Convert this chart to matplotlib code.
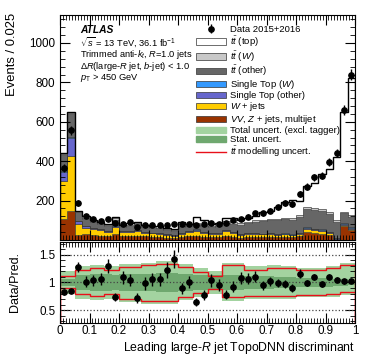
import numpy as np
import matplotlib
matplotlib.use("Agg")
import matplotlib.pyplot as plt
from matplotlib.patches import Patch
from matplotlib.lines import Line2D
from matplotlib.ticker import MultipleLocator, FixedLocator, FuncFormatter

plt.rcParams['font.family'] = 'Liberation Sans'
plt.rcParams['mathtext.fontset'] = 'custom'
plt.rcParams['mathtext.rm'] = 'Liberation Sans'
plt.rcParams['mathtext.it'] = 'Liberation Sans:italic'
plt.rcParams['mathtext.bf'] = 'Liberation Sans:bold'

# 40 bins of width 0.025
edges = np.linspace(0.0, 1.0, 41)
centres = 0.5 * (edges[1:] + edges[:-1])

data = [365, 556, 187, 122, 105, 95, 105, 85, 83, 91,
        67, 76, 76, 76, 76, 80, 80, 81, 75, 81,
        85, 81, 88, 102, 107, 119, 136, 136, 149, 166,
        187, 183, 232, 271, 319, 327, 395, 440, 662, 840]

# stack components, bottom to top
vv = [105, 148, 25, 28, 25, 22, 20, 30, 18, 20,
      22, 18, 16, 15, 12, 10, 14, 18, 22, 16,
      14, 14, 20, 16, 12, 14, 16, 14, 16, 14,
      16, 14, 20, 40, 36, 32, 26, 4, 72, 52]
wjets = [192, 276, 56, 35, 30, 28, 22, 38, 24, 22,
         25, 20, 18, 16, 14, 12, 18, 22, 26, 20,
         16, 16, 24, 20, 14, 16, 16, 14, 14, 12,
         12, 10, 12, 16, 14, 14, 10, 2, 4, 4]
st_other = [48, 95, 15, 8, 6, 5, 5, 5, 4, 4,
            4, 4, 3, 3, 3, 3, 4, 4, 5, 4,
            3, 4, 5, 4, 3, 4, 4, 3, 4, 4,
            4, 3, 4, 6, 6, 6, 5, 2, 6, 5]
st_w = [3, 4, 2, 2, 2, 1, 1, 1, 1, 1,
        1, 1, 1, 1, 1, 1, 1, 1, 1, 1,
        1, 1, 1, 1, 1, 1, 1, 1, 1, 1,
        1, 1, 1, 2, 2, 2, 2, 1, 3, 3]
tt_other = [85, 115, 42, 35, 28, 25, 23, 30, 20, 26,
            28, 25, 24, 24, 22, 20, 28, 24, 28, 30,
            32, 34, 38, 42, 48, 52, 56, 64, 66, 70,
            72, 76, 80, 92, 94, 92, 90, 80, 52, 55]
tt_w = [5, 8, 4, 5, 5, 5, 5, 6, 4, 4,
        5, 4, 4, 4, 4, 4, 5, 5, 5, 5,
        5, 5, 6, 6, 6, 6, 7, 7, 7, 8,
        8, 8, 8, 10, 10, 10, 10, 10, 6, 10]
tt_top = [4, 4, 2, 7, 5, 4, 5, 5, 5, 10,
          7, 5, 6, 9, 6, 6, 19, 6, 28, 28,
          11, 11, 19, 21, 15, 18, 23, 40, 38, 59,
          78, 91, 75, 108, 128, 178, 216, 320, 506, 695]

# ratio panel bands
red_up = [1.11, 1.11, 1.22, 1.22, 1.26, 1.26, 1.23, 1.23, 1.28, 1.28,
          1.28, 1.32, 1.32, 1.34, 1.34, 1.34, 1.28, 1.28, 1.19, 1.19,
          1.11, 1.11, 1.31, 1.31, 1.31, 1.23, 1.23, 1.23, 1.26, 1.26,
          1.26, 1.26, 1.22, 1.22, 1.22, 1.22, 1.26, 1.26, 1.32, 1.32]
red_dn = [0.90, 0.90, 0.79, 0.79, 0.76, 0.76, 0.79, 0.79, 0.70, 0.70,
          0.70, 0.67, 0.67, 0.66, 0.66, 0.66, 0.74, 0.74, 0.81, 0.81,
          0.89, 0.89, 0.73, 0.73, 0.73, 0.76, 0.76, 0.76, 0.75, 0.75,
          0.75, 0.75, 0.78, 0.78, 0.78, 0.78, 0.79, 0.79, 0.82, 0.82]
tot_up = [1.20, 1.20, 1.30, 1.30, 1.32, 1.32, 1.30, 1.30, 1.33, 1.33,
          1.33, 1.36, 1.36, 1.38, 1.38, 1.38, 1.33, 1.33, 1.26, 1.26,
          1.20, 1.20, 1.36, 1.36, 1.36, 1.30, 1.30, 1.30, 1.31, 1.31,
          1.30, 1.30, 1.27, 1.27, 1.27, 1.27, 1.30, 1.30, 1.35, 1.35]
tot_dn = [0.80, 0.80, 0.70, 0.70, 0.68, 0.68, 0.70, 0.70, 0.65, 0.65,
          0.65, 0.62, 0.62, 0.61, 0.61, 0.61, 0.68, 0.68, 0.74, 0.74,
          0.80, 0.80, 0.66, 0.66, 0.66, 0.71, 0.71, 0.71, 0.70, 0.70,
          0.71, 0.71, 0.73, 0.73, 0.73, 0.73, 0.74, 0.74, 0.77, 0.77]
stat = [0.07, 0.06, 0.13, 0.14, 0.15, 0.15, 0.16, 0.14, 0.16, 0.15,
        0.15, 0.16, 0.16, 0.17, 0.18, 0.18, 0.15, 0.15, 0.14, 0.14,
        0.14, 0.14, 0.13, 0.13, 0.13, 0.12, 0.12, 0.11, 0.11, 0.10,
        0.10, 0.10, 0.09, 0.09, 0.08, 0.08, 0.08, 0.07, 0.06, 0.05]

c_vv, c_wj, c_sto, c_stw = '#993300', '#ffcc00', '#6666cc', '#3399ff'
c_tto, c_ttw, c_ttt = '#666666', '#c8c8c8', '#ffffff'
c_tot, c_stat = '#a3d3a0', '#6fa86f'

fig = plt.figure(figsize=(3.74, 3.59), dpi=100)
ax = fig.add_axes([60/374, 1-240/359, 295/374, 225/359])
rax = fig.add_axes([60/374, 1-323/359, 295/374, 81/359])

comps = [(vv, c_vv), (wjets, c_wj), (st_other, c_sto), (st_w, c_stw),
         (tt_other, c_tto), (tt_w, c_ttw), (tt_top, c_ttt)]
bottom = np.zeros(40)
for vals, col in comps:
    top = bottom + np.array(vals, dtype=float)
    ax.stairs(top, edges, baseline=bottom, fill=True, facecolor=col,
              edgecolor='#333333', linewidth=0.4)
    bottom = top
pred = bottom
ax.stairs(pred, edges, color='black', linewidth=1.0)

data = np.array(data, dtype=float)
derr = np.sqrt(data)
eb = ax.errorbar(centres, data, yerr=derr, fmt='o', color='black', ms=3.8,
                 elinewidth=1.0, capsize=0, zorder=5)

fmt = FuncFormatter(lambda v, p: '%g' % round(v, 3))
ax.set_xlim(0, 1)
ax.set_ylim(0, 1142)
ax.yaxis.set_major_locator(FixedLocator([200, 400, 600, 800, 1000]))
ax.yaxis.set_minor_locator(MultipleLocator(40))
ax.xaxis.set_major_locator(MultipleLocator(0.1))
ax.xaxis.set_minor_locator(MultipleLocator(0.01))
ax.tick_params(which='both', direction='in', top=True, right=True,
               labelbottom=False, labelsize=8.4)
ax.tick_params(which='major', length=7)
ax.tick_params(which='minor', length=3.5)

# ratio panel
rax.stairs(tot_up, edges, baseline=tot_dn, fill=True, color=c_tot, linewidth=0)
ratio = data / pred
rax.stairs(1 + np.array(stat), edges, baseline=1 - np.array(stat), fill=True,
           color=c_stat, linewidth=0)
rax.stairs(red_up, edges, color='#e8101a', linewidth=1.0)
rax.stairs(red_dn, edges, color='#e8101a', linewidth=1.0)
for yl in [0.5, 1.0, 1.5]:
    rax.axhline(yl, color='#444444', ls=':', lw=0.9)
rax.errorbar(centres, ratio, yerr=derr / pred, fmt='o', color='black', ms=3.8,
             elinewidth=1.0, capsize=0, zorder=5)
rax.set_xlim(0, 1)
rax.set_ylim(0.27, 1.73)
rax.yaxis.set_major_locator(FixedLocator([0.5, 1.0, 1.5]))
rax.yaxis.set_major_formatter(fmt)
rax.yaxis.set_minor_locator(MultipleLocator(0.1))
rax.xaxis.set_major_locator(MultipleLocator(0.1))
rax.xaxis.set_major_formatter(fmt)
rax.xaxis.set_minor_locator(MultipleLocator(0.01))
rax.tick_params(which='both', direction='in', top=True, right=True,
                labelsize=8.4)
rax.tick_params(axis='x', which='major', pad=1.5)
rax.tick_params(which='major', length=7)
rax.tick_params(which='minor', length=3.5)

fig.text(12/374, 1-13/359, 'Events / 0.025', rotation=90, ha='center',
         va='top', fontsize=9.4)
fig.text(15/374, 1-282/359, 'Data/Pred.', rotation=90, ha='center',
         va='center', fontsize=9.0)
fig.text(355/374, 1-348/359, r'Leading large-$R$ jet TopoDNN discriminant',
         ha='right', va='center', fontsize=8.8)

fig.text(80/374, 1-30/359, 'ATLAS', weight='bold', style='italic',
         fontsize=7.4, va='center')
info = [r'$\sqrt{s}$ = 13 TeV, 36.1 fb$^{-1}$',
        r'Trimmed anti-$k_{t}$, $R$=1.0 jets',
        r'$\Delta R$(large-$R$ jet, $b$-jet) < 1.0',
        r'$p_{\mathrm{T}}$ > 450 GeV']
for i, t in enumerate(info):
    fig.text(80/374, 1-(42.5 + 12.0*i)/359, t, fontsize=6.7, va='center')

handles = [eb,
           Patch(facecolor=c_ttt, edgecolor='#333333', lw=0.5),
           Patch(facecolor=c_ttw, edgecolor='#333333', lw=0.5),
           Patch(facecolor=c_tto, edgecolor='#333333', lw=0.5),
           Patch(facecolor=c_stw, edgecolor='#333333', lw=0.5),
           Patch(facecolor=c_sto, edgecolor='#333333', lw=0.5),
           Patch(facecolor=c_wj, edgecolor='#333333', lw=0.5),
           Patch(facecolor=c_vv, edgecolor='#333333', lw=0.5),
           Patch(facecolor=c_tot, edgecolor=c_tot),
           Patch(facecolor=c_stat, edgecolor=c_stat),
           Line2D([], [], color='#e8101a', lw=1.0)]
labels = ['Data 2015+2016', r'$t\bar{t}$ (top)', r'$t\bar{t}$ ($W$)',
          r'$t\bar{t}$ (other)', r'Single Top ($W$)', 'Single Top (other)',
          r'$W$ + jets', r'$VV$, $Z$ + jets, multijet',
          'Total uncert. (excl. tagger)', 'Stat. uncert.',
          r'$t\bar{t}$ modelling uncert.']
fig.legend(handles, labels, loc='upper left',
           bbox_to_anchor=(196/374, 1-25/359), frameon=False, fontsize=6.8,
           handlelength=3.2, handleheight=0.75, handletextpad=0.45,
           labelspacing=0.0, borderpad=0, borderaxespad=0)

fig.savefig('out.png', dpi=100)
